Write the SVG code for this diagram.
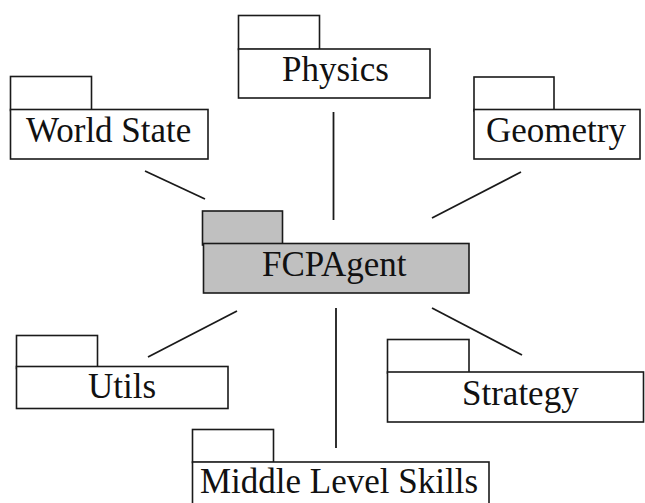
<svg xmlns="http://www.w3.org/2000/svg" width="645" height="503" viewBox="0 0 645 503">
<style>
.box{fill:#fff;stroke:#1a1a1a;stroke-width:1.6}
.main{fill:#c0c0c0;stroke:#1a1a1a;stroke-width:1.6}
.lbl{font-family:"Liberation Serif","Times New Roman",serif;font-size:35px;fill:#111}
.conn line{stroke:#1a1a1a;stroke-width:1.8;stroke-linecap:butt}
</style>
<rect width="645" height="503" fill="#fff"/>
<g id="connectors" class="conn">
<line x1="145" y1="171" x2="205" y2="199"/>
<line x1="333.5" y1="112" x2="333.5" y2="220"/>
<line x1="521" y1="172" x2="432" y2="218"/>
<line x1="237" y1="311" x2="148" y2="357"/>
<line x1="336" y1="308" x2="336" y2="448"/>
<line x1="432" y1="308" x2="522" y2="355"/>
</g>
<g id="world-state">
<rect class="box" x="10.5" y="76.5" width="81" height="34"/>
<rect class="box" x="10.5" y="109.5" width="197.5" height="49.5"/>
<text class="lbl" x="26" y="142">World State</text>
</g>
<g id="physics">
<rect class="box" x="238.5" y="15.5" width="81" height="34"/>
<rect class="box" x="238.5" y="49" width="191.5" height="49"/>
<text class="lbl" x="282" y="81">Physics</text>
</g>
<g id="geometry">
<rect class="box" x="474" y="77" width="80" height="34"/>
<rect class="box" x="474" y="109.5" width="166" height="49.5"/>
<text class="lbl" x="486" y="142">Geometry</text>
</g>
<g id="fcpagent">
<rect class="main" x="202.5" y="211" width="80" height="34"/>
<rect class="main" x="203.5" y="243.5" width="265.5" height="49.5"/>
<text class="lbl" x="262" y="276">FCPAgent</text>
</g>
<g id="utils">
<rect class="box" x="16.5" y="335.5" width="81" height="33"/>
<rect class="box" x="16.5" y="366.5" width="211.5" height="42"/>
<text class="lbl" x="88" y="398">Utils</text>
</g>
<g id="strategy">
<rect class="box" x="387.5" y="339.5" width="81.5" height="33.5"/>
<rect class="box" x="387.5" y="372" width="256" height="50"/>
<text class="lbl" x="462" y="405">Strategy</text>
</g>
<g id="middle-level-skills">
<rect class="box" x="192.5" y="429.5" width="81" height="33"/>
<rect class="box" x="192.5" y="462" width="296.5" height="60"/>
<text class="lbl" x="200" y="493">Middle Level Skills</text>
</g>
</svg>
